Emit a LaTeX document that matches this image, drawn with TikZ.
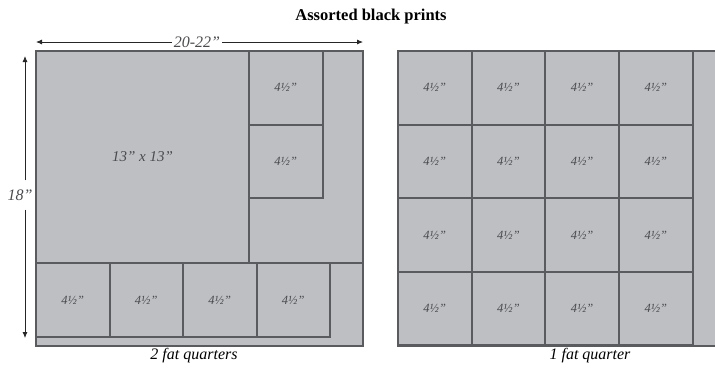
\documentclass[tikz,border=0pt]{standalone}
\usepackage{fontspec}
\setmainfont{Liberation Serif}
\usetikzlibrary{positioning,arrows.meta}
\definecolor{FQFill}{HTML}{BDBFC2}
\definecolor{FQLine}{HTML}{5A5B5F}
\definecolor{FQText}{HTML}{4A4B4E}

\begin{document}
\begin{tikzpicture}[
    x=1pt, y=-1pt,
    sheet/.style={
      draw=FQLine,
      fill=FQFill,
      line width=2pt,
      inner sep=0pt,
      outer sep=0pt,
      anchor=north west
    },
    square/.style={
      draw=FQLine,
      line width=2pt,
      minimum width=73.5pt,
      minimum height=73.5pt,
      inner sep=0pt,
      outer sep=0pt,
      anchor=north west,
      text=FQText,
      font=\itshape\fontsize{12.5}{14}\selectfont
    },
    dim/.style={
      -{Latex[length=6pt,width=5pt]},
      line width=0.8pt,
      black!85
    },
    dimlabel/.style={
      font=\itshape\fontsize{16}{18}\selectfont,
      text=FQText,
      inner sep=2pt
    },
    caption/.style={
      font=\itshape\fontsize{16}{18}\selectfont
    }
  ]
  \useasboundingbox (0,0) rectangle (715,368);

  % title
  \node[font=\bfseries\fontsize{16.5}{18}\selectfont] (title) at (371,17) {Assorted black prints};

  % left sheet: 2 fat quarters
  \node[sheet, minimum width=327pt, minimum height=295pt] (fqL) at (36,51) {};
  \node[square, minimum width=213pt, minimum height=212pt,
        font=\itshape\fontsize{15}{17}\selectfont] (big) at (36,51) {13" x 13"};
  \node[square] (sA) at (249,51) {4½"};
  \node[square, below=0pt of sA] (sB) {4½"};
  \draw[draw=FQLine, line width=2pt] (big.south west) -- (big.south west -| fqL.east);

  % bottom row of the left sheet
  \node[square, minimum width=73.5pt, minimum height=74pt] (b1) at (36,263) {4½"};
  \node[square, minimum height=74pt, right=0pt of b1] (b2) {4½"};
  \node[square, minimum height=74pt, right=0pt of b2] (b3) {4½"};
  \node[square, minimum height=74pt, right=0pt of b3] (b4) {4½"};

  % right sheet: 1 fat quarter (runs off the right edge)
  \coordinate (fqRtl) at (398,51);
  \coordinate (fqRbr) at (715,346);
  \fill[FQFill] (fqRtl) rectangle (fqRbr);
  \draw[draw=FQLine, line width=2pt] (fqRtl -| fqRbr) -- (fqRtl) -- (fqRtl |- fqRbr) -- (fqRbr);
  \foreach \r in {0,...,3}
    \foreach \c in {0,...,3}
      \node[square] (q\r\c) at ({398+73.7*\c},{51+73.6*\r}) {4½"};

  % dimensions
  \coordinate (wL) at (36,42);
  \coordinate (wR) at (363,42);
  \node[dimlabel] (wlab) at (197,42) {20-22"};
  \draw[dim] (wlab) -- (wL);
  \draw[dim] (wlab) -- (wR);

  \coordinate (hT) at (25,56);
  \coordinate (hB) at (25,338);
  \node[dimlabel, inner ysep=9pt] (hlab) at (20,195) {18"};
  \draw[dim] (hlab.north -| hT) -- (hT);
  \draw[dim] (hlab.south -| hB) -- (hB);

  % captions
  \node[caption] (capL) at (194,356) {2 fat quarters};
  \node[caption] (capR) at (590,356) {1 fat quarter};
\end{tikzpicture}
\end{document}
